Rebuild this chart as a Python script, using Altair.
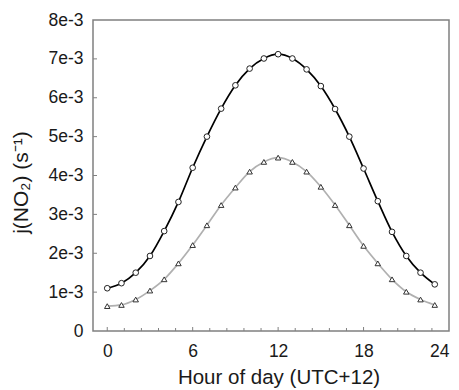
import altair as alt
import pandas as pd

hours = list(range(24))
j_circle = [0.00110, 0.00123, 0.00150, 0.00193, 0.00257, 0.00332, 0.00420, 0.00500,
            0.00572, 0.00632, 0.00675, 0.00701, 0.00712, 0.00701, 0.00673, 0.00630,
            0.00571, 0.00500, 0.00418, 0.00334, 0.00255, 0.00193, 0.00150, 0.00120]
j_triangle = [0.00064, 0.00067, 0.00081, 0.00104, 0.00133, 0.00174, 0.00221, 0.00272,
              0.00324, 0.00369, 0.00410, 0.00435, 0.00446, 0.00435, 0.00410, 0.00371,
              0.00324, 0.00272, 0.00219, 0.00174, 0.00133, 0.00101, 0.00081, 0.00067]
x_major = [0, 6, 12, 18, 24]
x_minor = [1.2, 2.4, 3.6, 4.8, 7.2, 8.4, 9.6, 10.8, 13.2, 14.4, 15.6, 16.8,
           19.2, 20.4, 21.6, 22.8]
y_ticks = [0.0, 0.001, 0.002, 0.003, 0.004, 0.005, 0.006, 0.007, 0.008]

df = pd.DataFrame({"hour": hours, "circle": j_circle, "triangle": j_triangle})
W, H = 356, 311
FONT = "Liberation Sans"
FRAME = "#808080"
TXT = "#1a1a1a"

xscale = alt.Scale(domain=[-1, 24], nice=False, zero=False)
yscale = alt.Scale(domain=[0, 0.008], nice=False)

x_axis = alt.Axis(values=x_major, tickSize=0, domain=False, grid=False,
                  labelFontSize=17.5, labelFont=FONT, labelColor=TXT, labelPadding=11,
                  title="Hour of day (UTC+12)", titleFontSize=20.5, titleFont=FONT,
                  titleFontWeight="normal", titleColor=TXT,
                  titleX=185.5, titleY=52, titleBaseline="alphabetic")
y_axis = alt.Axis(values=y_ticks, tickSize=0, domain=False, grid=False,
                  labelFontSize=17.5, labelFont=FONT, labelColor=TXT, labelPadding=10,
                  labelExpr="datum.value == 0 ? '0' : round(datum.value * 1000) + 'e-3'",
                  title="j(NO₂) (s⁻¹)", titleFontSize=21, titleFont=FONT,
                  titleFontWeight="normal", titleColor=TXT,
                  titleX=-72, titleY=162, titleBaseline="middle", titleAlign="center",
                  titleAngle=270)

base = alt.Chart(df)
X = alt.X("hour:Q", scale=xscale, axis=x_axis)

line_c = base.mark_line(color="black", strokeWidth=1.7, interpolate="monotone").encode(
    x=X, y=alt.Y("circle:Q", scale=yscale, axis=y_axis),
)
line_t = base.mark_line(color="#b0b0b0", strokeWidth=1.7, interpolate="monotone").encode(
    x=X, y=alt.Y("triangle:Q", scale=yscale, axis=y_axis),
)
pts_c = base.mark_point(shape="circle", filled=True, fill="white", stroke="#222",
                        strokeWidth=1, size=32, opacity=1).encode(
    x=X, y=alt.Y("circle:Q", scale=yscale, axis=y_axis),
)
pts_t = base.mark_point(shape="triangle-up", filled=True, fill="white", stroke="#333",
                        strokeWidth=1, size=30, opacity=1).encode(
    x=X, y=alt.Y("triangle:Q", scale=yscale, axis=y_axis),
)

yt = alt.Chart(pd.DataFrame({"v": y_ticks[1:-1]})).mark_rule(color=FRAME, strokeWidth=1).encode(
    y=alt.Y("v:Q", scale=yscale, axis=y_axis), x=alt.value(0), x2=alt.value(4))
xt_major = alt.Chart(pd.DataFrame({"v": x_major[:-1]})).mark_rule(color=FRAME, strokeWidth=1).encode(
    x=alt.X("v:Q", scale=xscale, axis=x_axis), y=alt.value(H), y2=alt.value(H - 4))
xt_minor = alt.Chart(pd.DataFrame({"v": x_minor})).mark_rule(color=FRAME, strokeWidth=1).encode(
    x=alt.X("v:Q", scale=xscale, axis=x_axis), y=alt.value(H), y2=alt.value(H - 3))

chart = alt.layer(line_c, line_t, yt, xt_major, xt_minor, pts_t, pts_c).properties(
    width=W, height=H,
    background="white",
    autosize=alt.AutoSizeParams(type="none"),
    padding={"left": 93, "top": 20, "right": 10, "bottom": 59},
).configure_view(stroke=FRAME, strokeWidth=1.5)

chart.save("out.html", embed_options={"renderer": "svg", "actions": False})
